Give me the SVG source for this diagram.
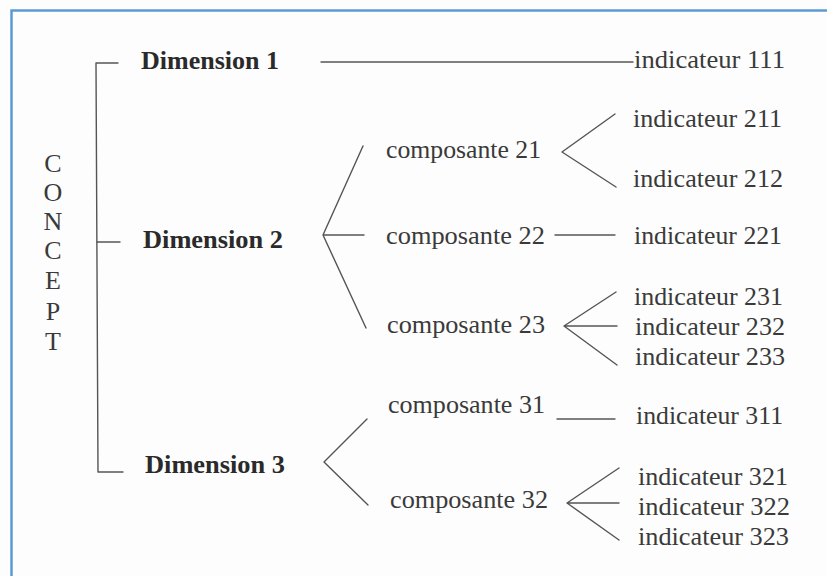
<svg xmlns="http://www.w3.org/2000/svg" width="827" height="576" viewBox="0 0 827 576">
<style>
  .t { font-family: "Liberation Serif", "Times New Roman", serif; font-size: 26px; fill: #3a3a3a; }
  .b { font-family: "Liberation Serif", "Times New Roman", serif; font-size: 26px; font-weight: bold; fill: #2a2a2a; }
  .c { font-family: "Liberation Serif", "Times New Roman", serif; font-size: 26px; fill: #3a3a3a; text-anchor: middle; }
  .ln { stroke: #555; stroke-width: 1.4; fill: none; stroke-linecap: round; stroke-linejoin: round; }
</style>
<rect x="0" y="0" width="827" height="576" fill="#fdfdfd"/>
<rect x="11.5" y="10.5" width="830" height="580" fill="none" stroke="#5b9bd5" stroke-width="2.5"/>

<g id="concept">
  <text class="c" x="53" y="172">C</text>
  <text class="c" x="53" y="201">O</text>
  <text class="c" x="53" y="230">N</text>
  <text class="c" x="53" y="259">C</text>
  <text class="c" x="53" y="289">E</text>
  <text class="c" x="53" y="320">P</text>
  <text class="c" x="53" y="350">T</text>
</g>

<g id="connectors">
  <path class="ln" d="M118 63 H96 L98 472 H123"/>
  <path class="ln" d="M97 242 H120"/>
  <path class="ln" d="M321 62 H633"/>
  <path class="ln" d="M363 146 L323 235 L366 328 M323 235 H364"/>
  <path class="ln" d="M615 114 L562 152 L616 187"/>
  <path class="ln" d="M555 235 H615"/>
  <path class="ln" d="M616 292 L564 326 L617 365 M564 326 H617"/>
  <path class="ln" d="M557 419 H615"/>
  <path class="ln" d="M367 419 L324 462 L368 505"/>
  <path class="ln" d="M619 468 L567 503 L619 540 M567 503 H619"/>
</g>

<g id="dimension1"><text class="b" x="141" y="69" textLength="138" lengthAdjust="spacingAndGlyphs">Dimension 1</text></g>
<g id="dimension2"><text class="b" x="143" y="248" textLength="140" lengthAdjust="spacingAndGlyphs">Dimension 2</text></g>
<g id="dimension3"><text class="b" x="145" y="473" textLength="140" lengthAdjust="spacingAndGlyphs">Dimension 3</text></g>

<g id="composante21"><text class="t" x="386" y="158" textLength="155" lengthAdjust="spacingAndGlyphs">composante 21</text></g>
<g id="composante22"><text class="t" x="386" y="244" textLength="159" lengthAdjust="spacingAndGlyphs">composante 22</text></g>
<g id="composante23"><text class="t" x="387" y="333" textLength="158" lengthAdjust="spacingAndGlyphs">composante 23</text></g>
<g id="composante31"><text class="t" x="388" y="413" textLength="157" lengthAdjust="spacingAndGlyphs">composante 31</text></g>
<g id="composante32"><text class="t" x="390" y="508" textLength="158" lengthAdjust="spacingAndGlyphs">composante 32</text></g>

<g id="indicateur111"><text class="t" x="634" y="68" textLength="151" lengthAdjust="spacingAndGlyphs">indicateur 111</text></g>
<g id="indicateur211"><text class="t" x="633" y="127" textLength="149" lengthAdjust="spacingAndGlyphs">indicateur 211</text></g>
<g id="indicateur212"><text class="t" x="633" y="187" textLength="150" lengthAdjust="spacingAndGlyphs">indicateur 212</text></g>
<g id="indicateur221"><text class="t" x="634" y="244" textLength="148" lengthAdjust="spacingAndGlyphs">indicateur 221</text></g>
<g id="indicateur231"><text class="t" x="634" y="305" textLength="149" lengthAdjust="spacingAndGlyphs">indicateur 231</text></g>
<g id="indicateur232"><text class="t" x="635" y="335" textLength="150" lengthAdjust="spacingAndGlyphs">indicateur 232</text></g>
<g id="indicateur233"><text class="t" x="635" y="365" textLength="150" lengthAdjust="spacingAndGlyphs">indicateur 233</text></g>
<g id="indicateur311"><text class="t" x="636" y="424" textLength="147" lengthAdjust="spacingAndGlyphs">indicateur 311</text></g>
<g id="indicateur321"><text class="t" x="638" y="485" textLength="150" lengthAdjust="spacingAndGlyphs">indicateur 321</text></g>
<g id="indicateur322"><text class="t" x="638" y="515" textLength="152" lengthAdjust="spacingAndGlyphs">indicateur 322</text></g>
<g id="indicateur323"><text class="t" x="638" y="545" textLength="151" lengthAdjust="spacingAndGlyphs">indicateur 323</text></g>
</svg>
